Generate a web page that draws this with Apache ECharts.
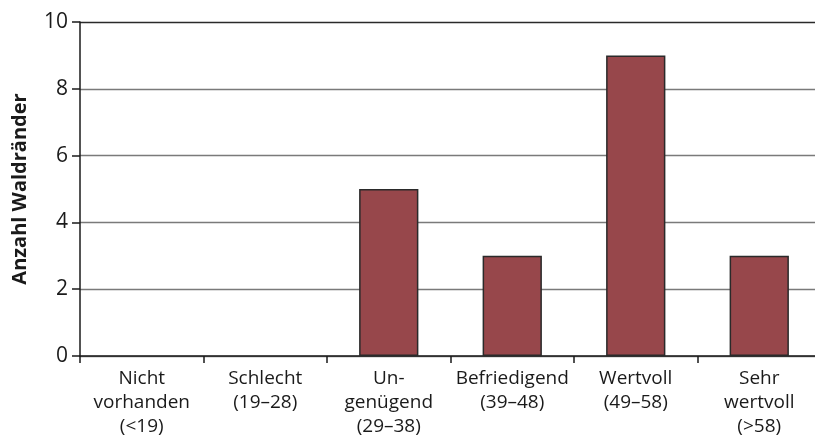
<!DOCTYPE html>
<html>
<head>
<meta charset="utf-8">
<script src="https://cdn.jsdelivr.net/npm/echarts@6/dist/echarts.min.js"></script>
<style>
  html, body { margin: 0; padding: 0; background: #fff; overflow: hidden; }
  #chart { width: 815px; height: 444px; }
</style>
</head>
<body>
<div id="chart"></div>
<script>
// Kategorien und Werte
const categories = [
  'Nicht\nvorhanden\n(<19)',
  'Schlecht\n(19–28)',
  'Un-\ngenügend\n(29–38)',
  'Befriedigend\n(39–48)',
  'Wertvoll\n(49–58)',
  'Sehr\nwertvoll\n(>58)'
]
const counts = [0, 0, 5, 3, 9, 3]
const yTicks = { min: 0, max: 10, interval: 2 }

const fontFam = '"Open Sans", "Noto Sans", sans-serif'
const chart = echarts.init(document.getElementById('chart'), null, { renderer: 'canvas' })

// Nullwerte ohne Rahmen zeichnen
const barData = counts.map(v => ({
  value: v,
  itemStyle: v === 0 ? { borderWidth: 0 } : {}
}))

chart.setOption({
  animation: false,
  // Grafik ist rechts angeschnitten, daher negativer Rand
  grid: { left: 80, right: -6, top: 22, bottom: 88, outerBoundsMode: 'none' },
  xAxis: {
    type: 'category',
    data: categories,
    axisLine: { lineStyle: { color: '#1a1a1a', width: 1.5 } },
    axisTick: { show: true, length: 7, lineStyle: { color: '#1a1a1a', width: 1.5 } },
    axisLabel: {
      interval: 0,
      margin: 11,
      color: '#1a1a1a',
      fontFamily: fontFam,
      fontSize: 19,
      lineHeight: 24
    }
  },
  yAxis: {
    type: 'value',
    min: yTicks.min,
    max: yTicks.max,
    interval: yTicks.interval,
    name: 'Anzahl Waldränder',
    nameLocation: 'middle',
    nameGap: 50,
    nameTextStyle: {
      fontFamily: fontFam,
      fontSize: 20,
      fontWeight: 'bold',
      color: '#1a1a1a'
    },
    axisLine: { show: true, lineStyle: { color: '#1a1a1a', width: 1.5 } },
    axisTick: { show: true, length: 8, lineStyle: { color: '#1a1a1a', width: 1.5 } },
    axisLabel: {
      margin: 12,
      color: '#1a1a1a',
      fontFamily: fontFam,
      fontSize: 21
    },
    splitLine: {
      lineStyle: {
        color: ['#7a7a7a', '#7a7a7a', '#7a7a7a', '#7a7a7a', '#7a7a7a', '#2a2a2a'],
        width: 1.3
      }
    }
  },
  series: [{
    type: 'bar',
    data: barData,
    barWidth: '48%',
    itemStyle: {
      color: '#97474B',
      borderColor: '#2a2a2a',
      borderWidth: 1.5
    }
  }]
})
</script>
</body>
</html>
